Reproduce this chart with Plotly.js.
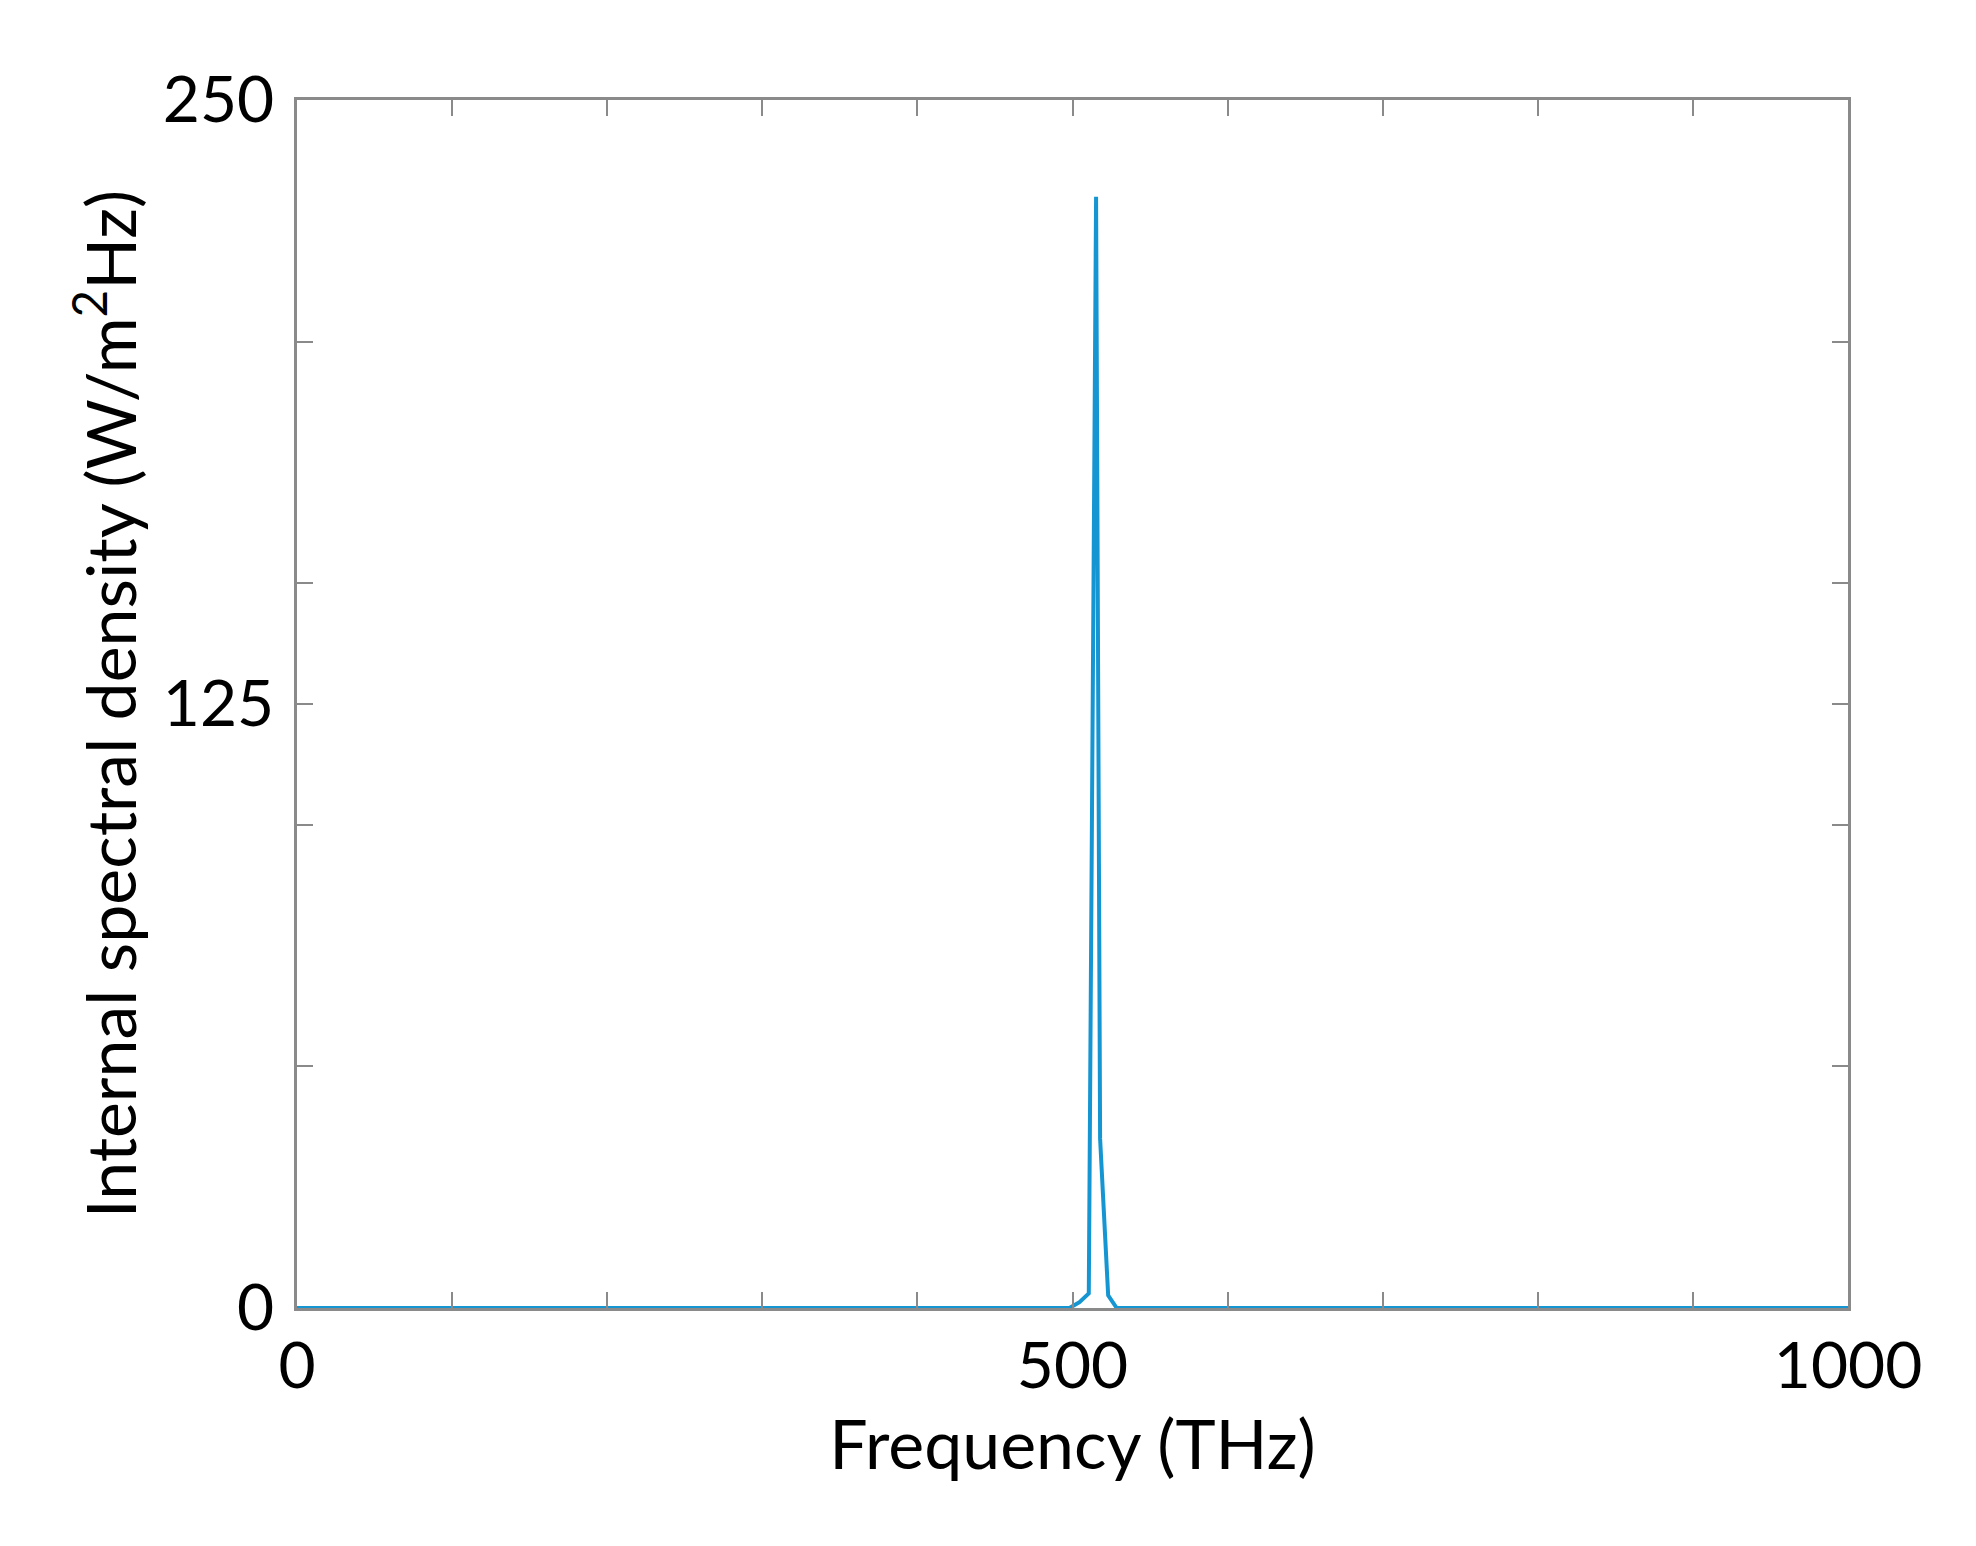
<!DOCTYPE html>
<html>
<head>
<meta charset="utf-8">
<script src="https://cdn.plot.ly/plotly-3.0.1.min.js"></script>
<style>
  html, body { margin: 0; padding: 0; background: #fff; }
  #graph { width: 1976px; height: 1546px; }
</style>
</head>
<body>
<div id="graph"></div>
<script>
// Espectro (THz, W/m^2Hz)
const frequency = [0, 100, 200, 300, 400, 498, 504.5, 510.5, 515.2, 517.8, 523, 528.5, 600, 700, 800, 900, 1000];
const density   = [0, 0, 0, 0, 0, 0, 1.2, 3.0, 230, 35, 2.6, 0, 0, 0, 0, 0, 0];

// Marcas de los ejes
const xTicks = [0, 100, 200, 300, 400, 500, 600, 700, 800, 900, 1000];
const xTickText = ['0', '', '', '', '', '500', '', '', '', '', '1000'];
const yTicks = [0, 50, 100, 125, 150, 200, 250];
const yTickText = ['0', '', '', '125', '', '', '250'];

const fontFamily = 'Lato, "Open Sans", sans-serif';
const axisGrey = '#8a8a8a';

const trace = {
    x: frequency,
    y: density,
    mode: 'lines',
    type: 'scatter',
    line: { color: '#1596d2', width: 4 },
    hoverinfo: 'skip'
};

const layout = {
    width: 1976,
    height: 1546,
    paper_bgcolor: '#ffffff',
    plot_bgcolor: '#ffffff',
    showlegend: false,
    margin: { l: 297, r: 128, t: 100, b: 238 },
    font: { family: fontFamily, color: '#000000', size: 64 },
    xaxis: {
        range: [0, 1000],
        tickvals: xTicks,
        ticktext: xTickText,
        ticks: 'inside',
        ticklen: 16,
        tickwidth: 2,
        tickcolor: axisGrey,
        showline: true,
        linecolor: axisGrey,
        linewidth: 3,
        mirror: 'ticks',
        showgrid: false,
        zeroline: false,
        ticklabelstandoff: 0,
        tickfont: { family: fontFamily, size: 64, color: '#000' },
        title: { text: 'Frequency (THz)', font: { family: fontFamily, size: 68, color: '#000' }, standoff: 16 },
        automargin: false
    },
    yaxis: {
        range: [0, 250],
        tickvals: yTicks,
        ticktext: yTickText,
        ticks: 'inside',
        ticklen: 16,
        tickwidth: 2,
        tickcolor: axisGrey,
        showline: true,
        linecolor: axisGrey,
        linewidth: 3,
        mirror: 'ticks',
        showgrid: false,
        zeroline: false,
        ticklabelstandoff: 7,
        tickfont: { family: fontFamily, size: 64, color: '#000' },
        title: { text: 'Internal spectral density (W/m<sup>2</sup>Hz)', font: { family: fontFamily, size: 68, color: '#000' }, standoff: 5 },
        automargin: false
    }
};

Plotly.newPlot('graph', [trace], layout, { staticPlot: true });
</script>
</body>
</html>
